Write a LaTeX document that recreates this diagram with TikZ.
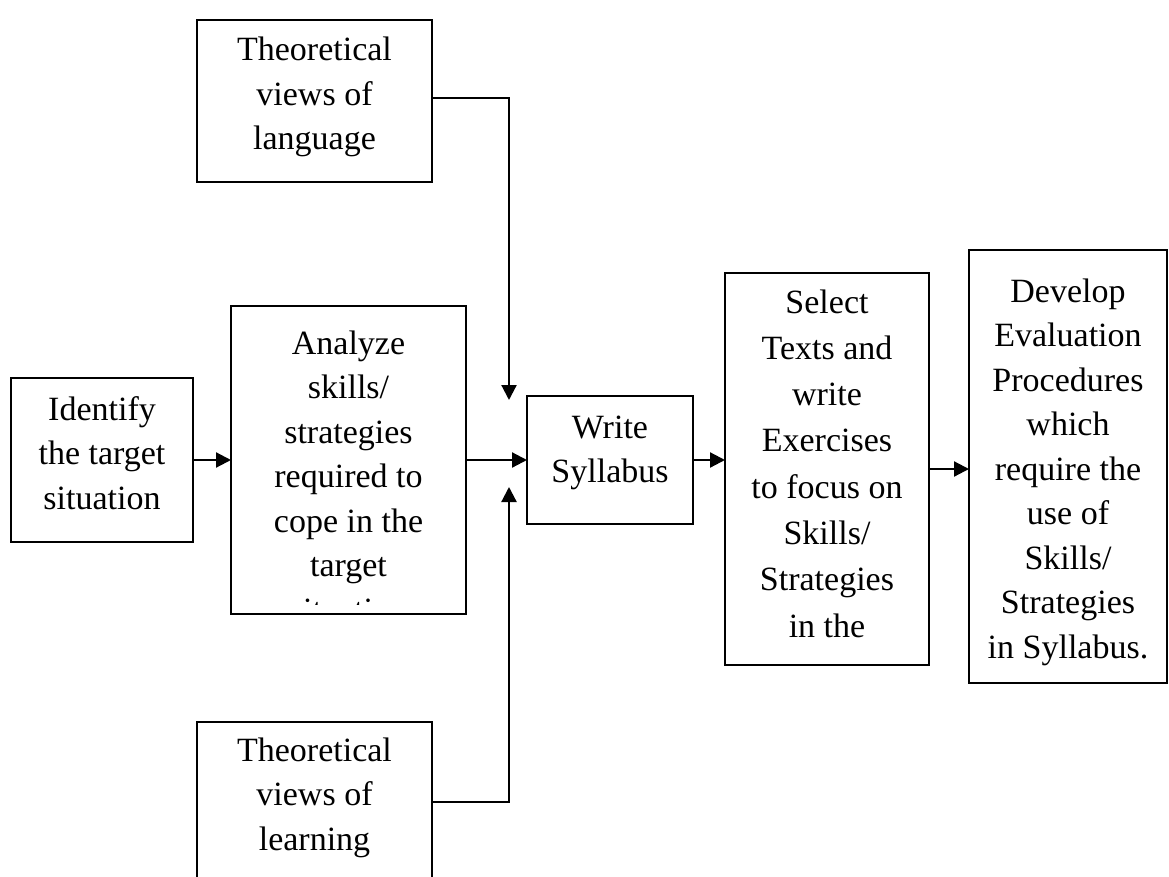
\documentclass[tikz,border=0pt]{standalone}
\usepackage{fontspec}
\setmainfont{Liberation Serif}
\usetikzlibrary{arrows.meta}
\newcommand{\boxtext}[1]{\begin{tabular}[t]{@{}c@{}}#1\end{tabular}}
\begin{document}
\begin{tikzpicture}[x=1pt,y=-1pt,
  box/.style={draw, line width=1.8pt, inner sep=0pt, outer sep=0pt, anchor=north west},
  txt/.style={inner sep=0pt, anchor=base, font=\fontsize{34}{44.5}\selectfont},
  arr/.style={line width=2.2pt, -{Triangle[length=15pt,width=15pt]}}]
\useasboundingbox (0,0) rectangle (1169,877);
\clip (0,0) rectangle (1169,877);
% boxes
\node[box, minimum width=235pt, minimum height=162pt] (lang) at (197,20) {};
\node[box, minimum width=182pt, minimum height=164pt] (ident) at (11,378) {};
\node[box, minimum width=235pt, minimum height=308pt] (anal) at (231,306) {};
\node[box, minimum width=166pt, minimum height=128pt] (write) at (527,396) {};
\node[box, minimum width=204pt, minimum height=392pt] (select) at (725,273) {};
\node[box, minimum width=198pt, minimum height=433pt] (develop) at (969,250) {};
\node[box, minimum width=235pt, minimum height=200pt] (learn) at (197,722) {};
% texts
\node[txt] (langT) at (314.5,61) {\boxtext{Theoretical\\views of\\language}};
\node[txt] (identT) at (102,420) {\boxtext{Identify\\the target\\situation}};
\begin{scope}
\clip (231,305) rectangle (466,604);
\node[txt] (analT) at (348.5,354) {\boxtext{Analyze\\skills/\\strategies\\required to\\cope in the\\target\\situation}};
\end{scope}
\node[txt] (writeT) at (610,438) {\boxtext{Write\\Syllabus}};
\node[txt, font=\fontsize{34}{46.3}\selectfont] (selectT) at (827,313) {\boxtext{Select\\Texts and\\write\\Exercises\\to focus on\\Skills/\\Strategies\\in the}};
\node[txt] (developT) at (1068,302) {\boxtext{Develop\\Evaluation\\Procedures\\which\\require the\\use of\\Skills/\\Strategies\\in Syllabus.}};
\node[txt] (learnT) at (314.5,761) {\boxtext{Theoretical\\views of\\learning}};
% connectors
\coordinate (topTip) at (509,400);
\coordinate (botTip) at (509,487);
\draw[arr] ([yshift=3pt]lang.east) -| (topTip);
\draw[arr] ([yshift=-80pt]learn.north east) -| (botTip);
\draw[arr] (ident.east) -- (anal.west);
\draw[arr] (anal.east) -- (write.west);
\draw[arr] (write.east) -- (write.east -| select.west);
\draw[arr] (select.east) -- (select.east -| develop.west);
\end{tikzpicture}
\end{document}
